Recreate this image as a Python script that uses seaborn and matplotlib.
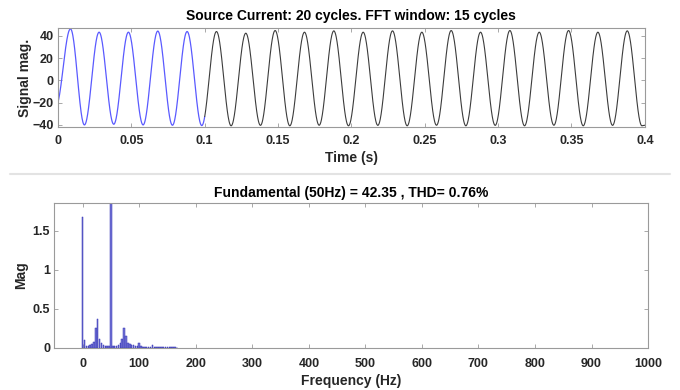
import numpy as np
import pandas as pd
import matplotlib
matplotlib.use("Agg")
import matplotlib.pyplot as plt
from matplotlib.lines import Line2D
import seaborn as sns

# ---- source current: extreme points of the waveform (time in s, value) ----
start_time = 0.0
start_value = -19.6
peak_times = [0.0085, 0.028, 0.048, 0.068, 0.088, 0.108, 0.128, 0.148, 0.168, 0.188,
              0.208, 0.228, 0.248, 0.268, 0.288, 0.308, 0.328, 0.348, 0.368, 0.388]
peak_values = [46.3, 43.3, 43.3, 44.3, 43.9, 43.9, 42.4, 44.8, 43.3, 44.5,
               43.3, 44.5, 43.3, 44.8, 43.3, 44.8, 43.3, 44.8, 43.3, 44.5]
trough_times = [0.018, 0.038, 0.058, 0.078, 0.098, 0.118, 0.138, 0.158, 0.178, 0.198,
                0.218, 0.238, 0.258, 0.278, 0.298, 0.318, 0.338, 0.358, 0.378, 0.398]
trough_values = [-40.0, -39.4, -40.0, -40.3, -40.6, -40.8, -40.4, -40.8, -40.3, -40.8,
                 -40.4, -40.8, -40.3, -40.8, -40.4, -40.8, -40.3, -40.8, -40.4, -40.8]
end_time = 0.4
end_value = -40.3
window_end = 0.1          # highlighted part of the record

# ---- FFT spectrum (bin spacing 10/3 Hz) ----
bin_width_hz = 10.0 / 3.0
spectrum_mag = [1.68, 0.10, 0.03, 0.03, 0.04, 0.05, 0.08, 0.26, 0.37, 0.12,
                0.06, 0.04, 0.03, 0.02, 0.02, 42.35, 0.02, 0.02, 0.03, 0.04,
                0.06, 0.11, 0.26, 0.15, 0.07, 0.05, 0.04, 0.035, 0.03, 0.03,
                0.07, 0.02, 0.015, 0.015, 0.015, 0.015, 0.015, 0.035, 0.012, 0.01,
                0.01, 0.01, 0.01, 0.01, 0.01, 0.008, 0.008, 0.008, 0.008, 0.008, 0.006]

title_top = "Source Current: 20 cycles. FFT window: 15 cycles"
title_bottom = "Fundamental (50Hz) = 42.35 , THD= 0.76%"

# ---------------------------------------------------------------------------
sns.set_style("ticks", {"xtick.direction": "in", "ytick.direction": "in"})
plt.rcParams["font.family"] = ["Liberation Sans", "DejaVu Sans"]
plt.rcParams["font.weight"] = "bold"

# build the waveform: half-cosine arcs between successive extremes
ext_t = [start_time]
ext_v = [start_value]
for pt, pv, tt, tv in zip(peak_times, peak_values, trough_times, trough_values):
    ext_t += [pt, tt]
    ext_v += [pv, tv]
ext_t.append(end_time)
ext_v.append(end_value)

ts, vs = [], []
for i in range(len(ext_t) - 1):
    t0, t1 = ext_t[i], ext_t[i + 1]
    v0, v1 = ext_v[i], ext_v[i + 1]
    if i == 0:
        # rising edge that starts part-way up the first arc
        span = (peak_times[0] - start_time) / 0.85
        s = np.linspace(0.15, 1.0, 40)
        tt = t1 - (1.0 - s) * span
        base = (v0 - v1 * (1 - np.cos(np.pi * 0.15)) / 2) / ((1 + np.cos(np.pi * 0.15)) / 2)
        vv = base + (v1 - base) * (1 - np.cos(np.pi * s)) / 2
    else:
        n = max(int(round((t1 - t0) / 0.0002)), 2)
        s = np.linspace(0, 1, n + 1)
        tt = t0 + (t1 - t0) * s
        vv = v0 + (v1 - v0) * (1 - np.cos(np.pi * s)) / 2
    if i > 0:
        tt, vv = tt[1:], vv[1:]
    ts.append(tt)
    vs.append(vv)
time = np.concatenate(ts)
current = np.concatenate(vs)
wave = pd.DataFrame({"t": time, "i": current})
part_a = wave[wave.t <= window_end]
part_b = wave[wave.t >= window_end]

freqs = np.arange(len(spectrum_mag)) * bin_width_hz
spec = pd.DataFrame({"f": freqs, "mag": spectrum_mag})

fig = plt.figure(figsize=(6.8, 3.9), dpi=100)
ax1 = fig.add_axes([0.0853, 0.674, 0.863, 0.254])
ax2 = fig.add_axes([0.080, 0.1077, 0.873, 0.372])

spine_col = "#9a9a9a"
text_col = "#262626"
fs_tick = 9
fs_label = 10
fs_title = 10

sns.lineplot(data=part_a, x="t", y="i", ax=ax1, color="#5a5aff", linewidth=0.9,
             estimator=None, sort=False)
sns.lineplot(data=part_b, x="t", y="i", ax=ax1, color="#3c3c3c", linewidth=0.8,
             estimator=None, sort=False)
ax1.set_xlim(0, 0.4)
ax1.set_ylim(-42, 47)
ax1.set_xticks(np.arange(0, 0.401, 0.05))
ax1.set_xticklabels(["0", "0.05", "0.1", "0.15", "0.2", "0.25", "0.3", "0.35", "0.4"])
ax1.set_yticks([-40, -20, 0, 20, 40])
ax1.set_xlabel("Time (s)", fontsize=fs_label, fontweight="bold", color=text_col, labelpad=3)
ax1.set_ylabel("Signal mag.", fontsize=fs_label, fontweight="bold", color=text_col, labelpad=0)
ax1.set_title(title_top, fontsize=fs_title, fontweight="bold", color="black", pad=5.5)

sns.barplot(data=spec, x="f", y="mag", ax=ax2, native_scale=True, facecolor="#7676d6",
            edgecolor="#3030b4", saturation=1, width=0.8, linewidth=0.35, errorbar=None)
ax2.set_xlim(-50, 1000)
ax2.set_ylim(0, 1.86)
ax2.set_xticks(np.arange(0, 1001, 100))
ax2.set_xticklabels([str(v) for v in range(0, 1001, 100)])
ax2.set_yticks([0, 0.5, 1, 1.5])
ax2.set_yticklabels(["0", "0.5", "1", "1.5"])
ax2.set_xlabel("Frequency (Hz)", fontsize=fs_label, fontweight="bold", color=text_col, labelpad=2.5)
ax2.set_ylabel("Mag", fontsize=fs_label, fontweight="bold", color=text_col, labelpad=3)
ax2.set_title(title_bottom, fontsize=fs_title, fontweight="bold", color="black", pad=4)

for ax, xpad in ((ax1, 5.3), (ax2, 7.5)):
    for sp in ax.spines.values():
        sp.set_visible(True)
        sp.set_color(spine_col)
        sp.set_linewidth(0.8)
    ax.tick_params(axis="both", which="both", direction="in", length=3, width=0.6,
                   color=spine_col, labelsize=fs_tick, labelcolor=text_col,
                   top=True, right=True, pad=3)
    ax.tick_params(axis="x", pad=xpad)
    for lab in ax.get_xticklabels() + ax.get_yticklabels():
        lab.set_fontweight("bold")

# separator between the two panels
fig.add_artist(Line2D([0.015, 0.985], [1 - 174 / 390, 1 - 174 / 390],
                      transform=fig.transFigure, color="#e3e3e3", linewidth=1.5))

fig.savefig("out.png", dpi=100, facecolor="white")
